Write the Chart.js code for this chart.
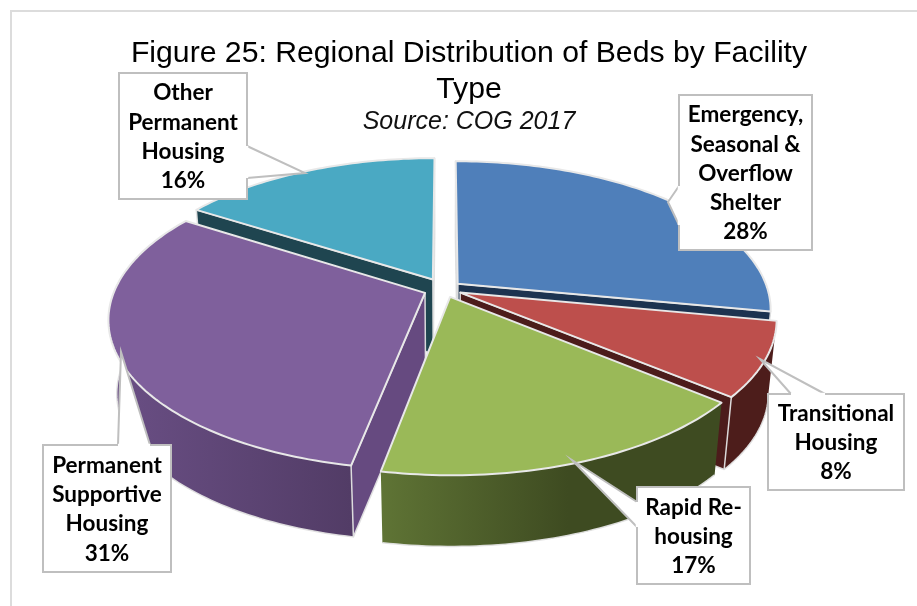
<!DOCTYPE html>
<html><head><meta charset="utf-8">
<style>html,body{margin:0;padding:0;background:#fff}canvas{display:block}</style>
<script src="https://cdn.jsdelivr.net/npm/chart.js@4"></script>
</head><body>
<canvas id="c" width="917" height="606"></canvas>
<script>
const categories = ["Emergency, Seasonal & Overflow Shelter","Transitional Housing","Rapid Re-housing","Permanent Supportive Housing","Other Permanent Housing"];
const values = [28,8,17,31,16];
const labelLines = [["Emergency,","Seasonal &","Overflow","Shelter"],["Transitional","Housing"],["Rapid Re-","housing"],["Permanent","Supportive","Housing"],["Other","Permanent","Housing"]];
const titleLines = ["Figure 25: Regional Distribution of Beds by Facility","Type"];
const subtitleText = "Source: COG 2017";

const explode = [13,13,13,15,17];
const topColors = ["#4f7fba","#bd4f4c","#9ab958","#7f609c","#4aa9c3"];
const faceColors = ["#1c3350","#4c1c1b","#4c1c1b","#664a80","#1f4550"];
const wallLeft = ["#1c3350","#4d1d1b","#5f7435","#6a4f85","#1f4550"];
const wallRight = ["#1c3350","#4d1d1b","#3e4b21","#523c66","#1f4550"];

const view = {cx:444,cy:289,rx:310,ry:145,k:0.17,depth:74,fx:0.975,fy:0.985};
const callouts = [
 {box:[679,95,133,155],tip:[668,202],a:[679,186],b:[679,225]},
 {box:[768,394,136,96],tip:[760,359],a:[791,394],b:[825,394]},
 {box:[637,487,113,97],tip:[572,460],a:[637,502],b:[637,527]},
 {box:[43,445,128,127],tip:[121,352],a:[118,445],b:[150,445]},
 {box:[119,73,128,126],tip:[305,173],a:[247,146],b:[247,178]}
];

function project(u,v){const w=1-view.k*v;return [view.cx+view.rx*u/w,view.cy+view.ry*v/w];}
function drop(p){return [view.cx+(p[0]-view.cx)*view.fx,view.cy+view.depth+(p[1]-view.cy)*view.fy];}
function poly(ctx,pts){ctx.beginPath();pts.forEach((p,i)=>i?ctx.lineTo(p[0],p[1]):ctx.moveTo(p[0],p[1]));ctx.closePath();}
function faceVisible(ou,ov,normal){return (0-ou)*Math.cos(normal)+(1/view.k-ov)*Math.sin(normal)>0;}

const pie3d = {
  id:'pie3d',
  beforeDraw(chart){
    const ctx=chart.ctx;ctx.save();
    ctx.strokeStyle='#dcdcdc';ctx.lineWidth=2;
    ctx.beginPath();ctx.moveTo(11,606);ctx.lineTo(11,11);ctx.lineTo(917,11);ctx.stroke();
    ctx.restore();
  },
  beforeDatasetsDraw(chart){
    const ctx=chart.ctx, arcs=chart.getDatasetMeta(0).data;
    const items=arcs.map((arc,i)=>{
      const e=arc.options.offset/arc.outerRadius, bis=(arc.startAngle+arc.endAngle)/2;
      const ou=e*Math.cos(bis), ov=e*Math.sin(bis), rim=[], wall=[];
      const n=Math.ceil((arc.endAngle-arc.startAngle)/0.02);
      for(let j=0;j<=n;j++){
        const a=arc.startAngle+(arc.endAngle-arc.startAngle)*j/n,p=project(ou+Math.cos(a),ov+Math.sin(a));
        rim.push(p);if(Math.sin(a)>-0.1)wall.push(p);
      }
      return {i,ou,ov,tip:project(ou,ov),rim,wall,start:arc.startAngle,end:arc.endAngle};
    }).sort((p,q)=>p.ov-q.ov);
    ctx.save();ctx.lineJoin='round';
    items.forEach(s=>{
      const i=s.i,tipB=drop(s.tip),first=s.rim[0],last=s.rim[s.rim.length-1];
      ctx.strokeStyle='rgba(225,225,225,0.95)';ctx.lineWidth=1.5;
      if(s.wall.length>1){
        const xs=s.wall.map(p=>p[0]),minX=Math.min(...xs),maxX=Math.max(...xs);
        const g=ctx.createLinearGradient(minX,0,maxX,0);
        g.addColorStop(0,wallLeft[i]);g.addColorStop(i===2?0.55:1,wallRight[i]);if(i===2)g.addColorStop(1,wallRight[i]);
        const low=s.wall.map(drop);
        poly(ctx,s.wall.concat(low.slice().reverse()));ctx.fillStyle=g;ctx.fill();
        ctx.beginPath();low.forEach((p,j)=>j?ctx.lineTo(p[0],p[1]):ctx.moveTo(p[0],p[1]));ctx.stroke();
      }
      if(faceVisible(s.ou,s.ov,s.end+Math.PI/2)){poly(ctx,[s.tip,last,drop(last),tipB]);ctx.fillStyle=faceColors[i];ctx.fill();ctx.stroke();}
      if(faceVisible(s.ou,s.ov,s.start-Math.PI/2)){poly(ctx,[s.tip,first,drop(first),tipB]);ctx.fillStyle=faceColors[i];ctx.fill();ctx.stroke();}
      poly(ctx,[s.tip].concat(s.rim));ctx.fillStyle=topColors[i];ctx.fill();
      ctx.strokeStyle='rgba(232,232,232,1)';ctx.lineWidth=2;ctx.stroke();
    });
    ctx.restore();
    return false;
  },
  afterDraw(chart){
    const ctx=chart.ctx;ctx.save();
    callouts.forEach((c,i)=>{
      const [x,y,w,h]=c.box;
      ctx.fillStyle='#fff';ctx.strokeStyle='#bfbfbf';ctx.lineWidth=2;
      ctx.fillRect(x,y,w,h);ctx.strokeRect(x,y,w,h);
      ctx.beginPath();ctx.moveTo(c.a[0],c.a[1]);ctx.lineTo(c.tip[0],c.tip[1]);ctx.lineTo(c.b[0],c.b[1]);ctx.fill();ctx.stroke();
      ctx.strokeStyle='#fff';ctx.lineWidth=2.5;ctx.beginPath();ctx.moveTo(c.a[0],c.a[1]);ctx.lineTo(c.b[0],c.b[1]);ctx.stroke();
      const lines=labelLines[i].concat([values[i]+'%']);
      ctx.fillStyle='#000';ctx.font='700 22.5px Lato';ctx.textAlign='center';ctx.textBaseline='middle';
      const lh=29.2,start=y+h/2+1-lh*(lines.length-1)/2;
      lines.forEach((t,j)=>ctx.fillText(t,x+w/2,start+j*lh));
    });
    ctx.restore();
  }
};

new Chart(document.getElementById('c'),{
  type:'pie',
  data:{labels:categories,datasets:[{data:values,backgroundColor:topColors,offset:explode,borderWidth:0}]},
  options:{
    responsive:false,animation:false,
    layout:{padding:{left:21,top:36}},
    plugins:{
      legend:{display:false},tooltip:{enabled:false},
      title:{display:true,text:titleLines,color:'#000',font:{family:'Liberation Sans',size:30.2,weight:'normal',lineHeight:1.18},padding:{top:0,bottom:0}},
      subtitle:{display:true,text:subtitleText,color:'#111',font:{family:'Liberation Sans',size:25,style:'italic',weight:'normal',lineHeight:1.2},padding:{top:0,bottom:0}}
    }
  },
  plugins:[pie3d]
});
</script>
</body></html>
